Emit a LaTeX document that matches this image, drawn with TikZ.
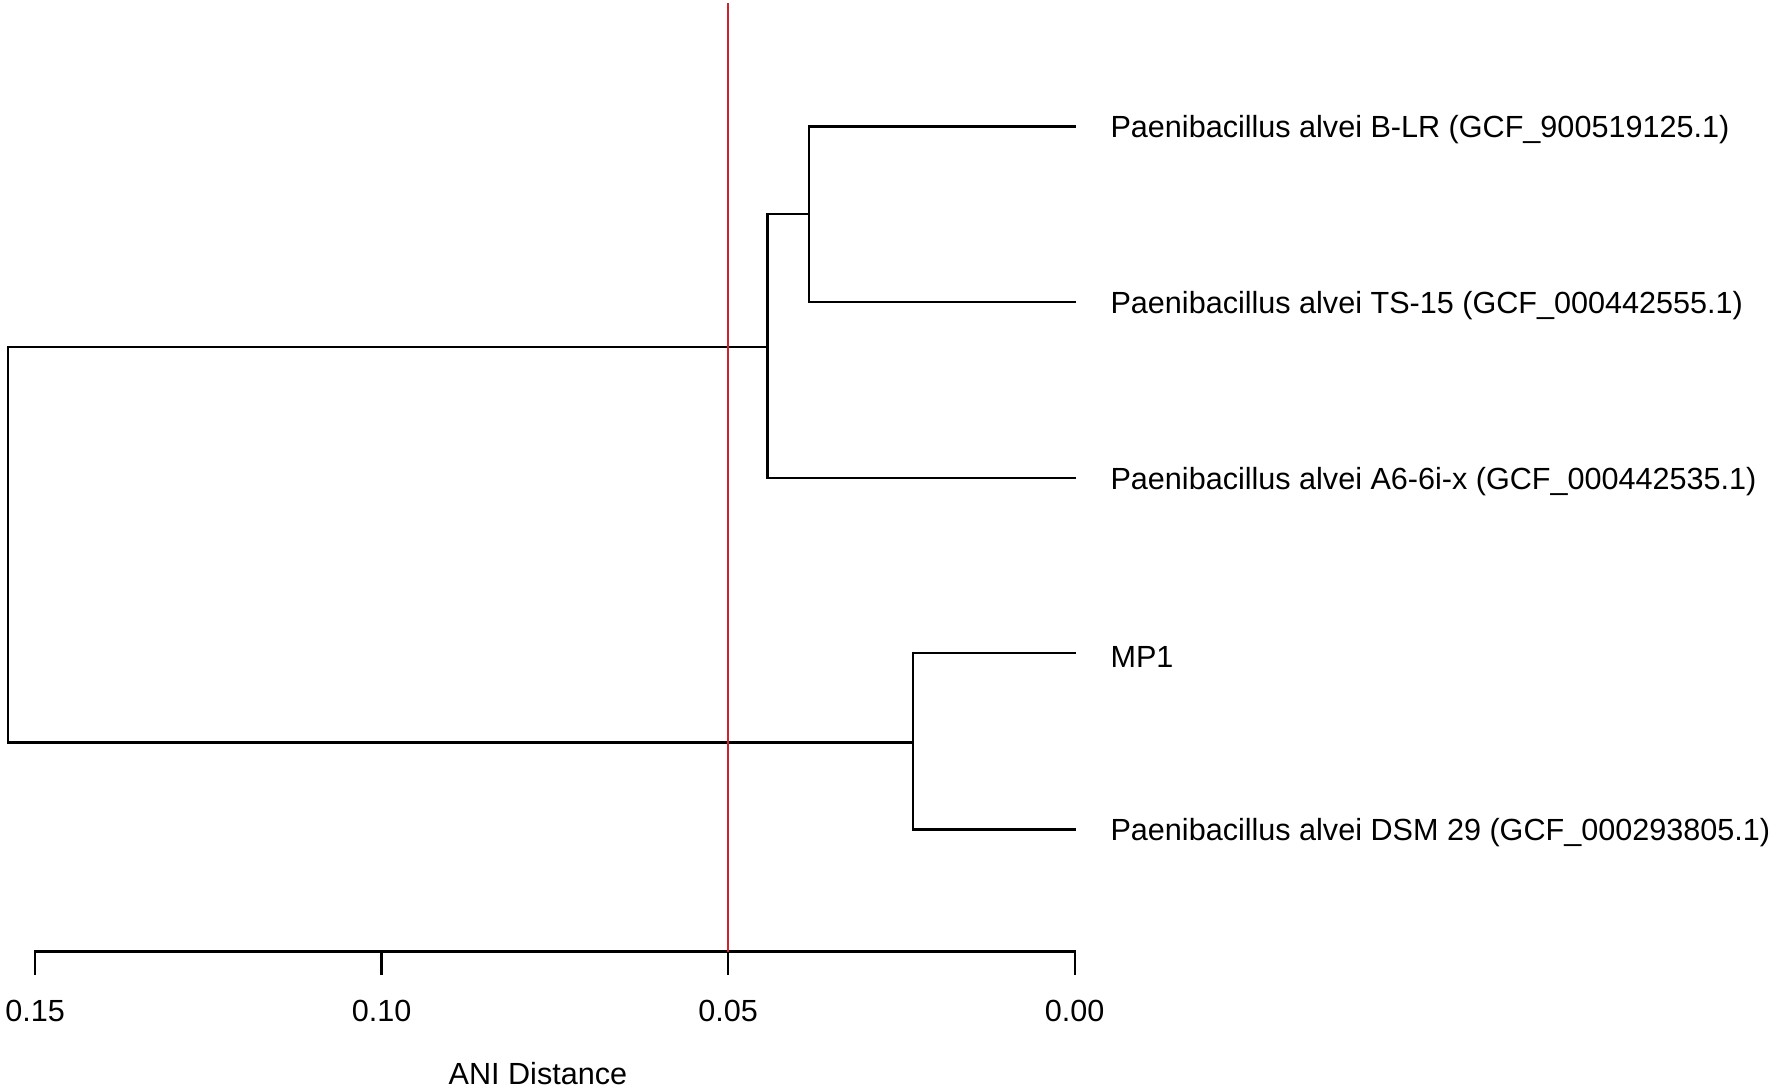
\documentclass[tikz,border=0pt]{standalone}
\usepackage{fontspec}
\setmainfont{Liberation Sans}
\usetikzlibrary{positioning}
\definecolor{cutred}{HTML}{D0222E}

\begin{document}
\begin{tikzpicture}[
  x=0.1mm, y=0.1mm,
  font=\fontsize{7.7}{9}\selectfont,
  branch/.style={draw=black, line width=0.6pt, line cap=rect},
  leaf/.style={anchor=west, inner sep=0pt, text=black, yshift=-0.3mm},
  ticklbl/.style={inner sep=0pt, text=black},
  cutoff/.style={draw=cutred, line width=0.4pt},
]
\useasboundingbox (0,0) rectangle (1568,962);

% ---------------- internal nodes -----------------------------------
\coordinate (root)   at (7,480);
\coordinate (cladeA) at (679,655);
\coordinate (cladeB) at (716,772.5);
\coordinate (cladeC) at (808,305);

% ---------------- tips and labels ----------------------------------
\coordinate (tBLR)  at (951,850);
\coordinate (tTS)   at (951,695);
\coordinate (tA6)   at (951,539);
\coordinate (tMP)   at (951,384);
\coordinate (tDSM)  at (951,228);

\node[leaf] (lBLR) at (982,850) {Paenibacillus alvei B-LR (GCF\_900519125.1)};
\node[leaf] (lTS)  at (982,695) {Paenibacillus alvei TS-15 (GCF\_000442555.1)};
\node[leaf] (lA6)  at (982,539) {Paenibacillus alvei A6-6i-x (GCF\_000442535.1)};
\node[leaf] (lMP)  at (982,384) {MP1};
\node[leaf] (lDSM) at (982,228) {Paenibacillus alvei DSM 29 (GCF\_000293805.1)};

% ---------------- branches -----------------------------------------
\draw[branch] (root) |- (cladeA);
\draw[branch] (root) |- (cladeC);
\draw[branch] (cladeA) |- (cladeB);
\draw[branch] (cladeA) |- (tA6);
\draw[branch] (cladeB) |- (tBLR);
\draw[branch] (cladeB) |- (tTS);
\draw[branch] (cladeC) |- (tMP);
\draw[branch] (cladeC) |- (tDSM);

% ---------------- distance axis ------------------------------------
\coordinate (ax0) at (31,120);
\coordinate (ax1) at (951,120);
\draw[branch] (ax0) -- (ax1);
\foreach \d in {0.15,0.10,0.05,0.00} {
  \draw[branch] ({951-6133*\d},120) -- ({951-6133*\d},100);
  \node[ticklbl] at ({951-6133*\d},67) {\d};
}
\node[ticklbl] (axlbl) at (476,12) {ANI Distance};

% ---------------- cut-off line -------------------------------------
\coordinate (cutTop) at (644,959);
\coordinate (cutBot) at (644,120);
\draw[cutoff] (cutTop) -- (cutBot);

\end{tikzpicture}
\end{document}
